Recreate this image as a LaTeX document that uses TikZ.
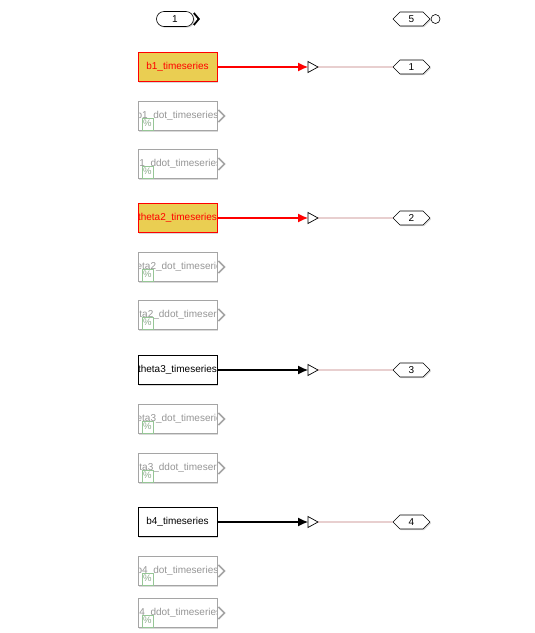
\documentclass[tikz,border=0pt]{standalone}
\usepackage{fontspec}
\setmainfont{Liberation Sans}
\usetikzlibrary{arrows.meta, shapes.symbols, shadows}

\definecolor{blkyellow}{RGB}{234,206,82}
\definecolor{blkgray}{RGB}{165,165,165}
\definecolor{txtgray}{RGB}{150,150,150}
\definecolor{iconcol}{RGB}{150,198,150}
\definecolor{portline}{RGB}{190,120,120}

\begin{document}
\begin{tikzpicture}[x=1pt,y=-1pt,font=\fontsize{10}{12}\selectfont]

\tikzset{shade/.style = {drop shadow={shadow xshift=1.2pt,shadow yshift=-1.2pt,opacity=0.3}}}
\tikzset{block/.style = {shape=rectangle,draw,line width=0.8pt,minimum width=79pt,minimum height=29pt,inner sep=0pt,shade}}
\tikzset{hot/.style = {block,draw=red,fill=blkyellow,text=red}}
\tikzset{plain/.style = {block,draw=black,fill=white}}
\tikzset{faded/.style = {block,draw=blkgray,fill=white,
  path picture={\node[text=txtgray] at (path picture bounding box.center) {#1};}}}
\tikzset{icon/.style = {draw=iconcol,fill=white,minimum width=11pt,minimum height=12pt,inner sep=0pt,
  anchor=south west,text=iconcol!60!gray,font=\fontsize{9.5}{9.5}\selectfont}}
\tikzset{tag/.style = {shape=signal,signal to=west and east,signal pointer angle=90,draw,fill=white,
  line width=0.6pt,minimum width=37pt,minimum height=14pt,inner sep=0pt,shade}}
\tikzset{inport/.style = {shape=rectangle,rounded corners=7.5pt,draw,fill=white,line width=0.6pt,
  minimum width=37pt,minimum height=15pt,inner sep=0pt,shade}}
\tikzset{sig/.style = {line width=1.1pt,-{Latex[length=10pt,width=9pt]}}}

\useasboundingbox (0,0) rectangle (535,633);

%ports
\node[inport] (in1) at (175,19) {1};
\draw[line width=1.8pt] ([yshift=6pt]in1.east) -- ++(5,6) -- ++(-5,6);
\node[tag] (g5) at (411.5,19) {5};
\node[draw,circle,fill=white,minimum size=9pt,inner sep=0pt,line width=0.6pt] (c5) at (435.5,19) {};

%source blocks
\node[hot] (b1) at (177.5,67) {b1\_timeseries};
\node[hot] (theta2) at (177.5,218) {theta2\_timeseries};
\node[plain] (theta3) at (177.5,370) {theta3\_timeseries};
\node[plain] (b4) at (177.5,522) {b4\_timeseries};

%commented out blocks
\foreach \n/\t/\y in {b1dot/b1\_dot\_timeseries/116, b1ddot/b1\_ddot\_timeseries/164,
  theta2dot/theta2\_dot\_timeseries/267, theta2ddot/theta2\_ddot\_timeseries/315,
  theta3dot/theta3\_dot\_timeseries/419, theta3ddot/theta3\_ddot\_timeseries/468,
  b4dot/b4\_dot\_timeseries/571, b4ddot/b4\_ddot\_timeseries/613} {
  \node[faded=\t] (\n) at (177.5,\y) {};
  \node[icon] (\n pc) at ([xshift=4pt,yshift=1pt]\n.south west) {\%};
  \draw[blkgray,line width=1.6pt] ([xshift=1pt,yshift=6pt]\n.east) -- ++(6,6) -- ++(-6,6);
}

%signals
\foreach \n/\k/\y/\c in {b1/1/67/red, theta2/2/218/red, theta3/3/370/black, b4/4/522/black} {
  \coordinate (p\k) at (308,\y);
  \coordinate (q\k) at (318,\y);
  \draw[fill=white,line width=0.7pt] (p\k) -- ++(0,-5.5) -- (q\k) -- ++(-10,5.5) -- cycle;
  \draw[sig,\c] (\n.east) -- (p\k);
}

%goto tags
\foreach \k/\y in {1/67, 2/218, 3/370, 4/522} {
  \node[tag] (g\k) at (411.5,\y) {\k};
  \draw[portline,line width=0.8pt] (q\k) -- (g\k);
}

\end{tikzpicture}
\end{document}
